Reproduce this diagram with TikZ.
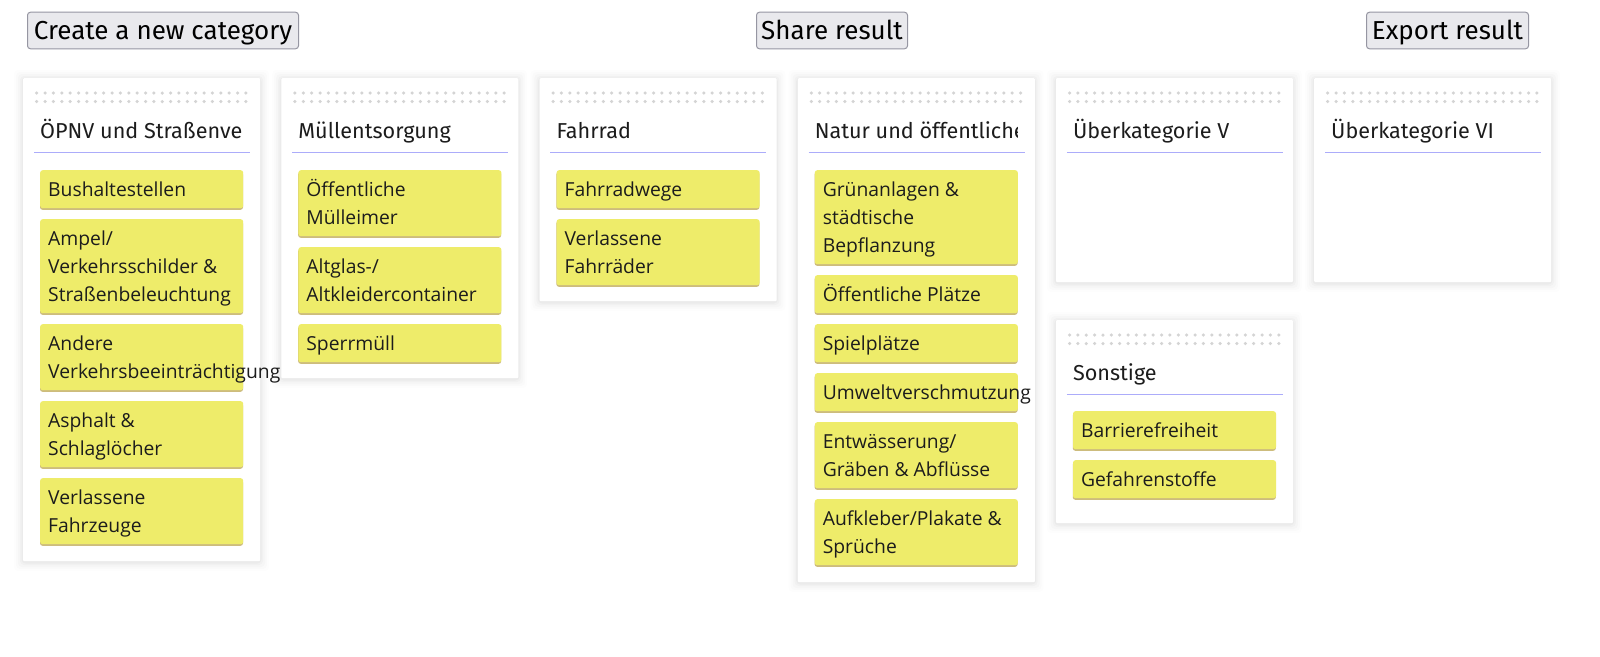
\documentclass[tikz,border=0pt]{standalone}
\usepackage{fontspec}
\setmainfont{Open Sans}
\newfontfamily\headf{Fira Sans}
\newfontfamily\cardf{Open Sans}
\definecolor{cardfill}{RGB}{238,236,106}
\definecolor{cardsh}{RGB}{205,188,125}
\definecolor{txt}{RGB}{28,28,28}
\definecolor{hline}{RGB}{172,172,250}
\definecolor{dotc}{RGB}{212,212,212}
\definecolor{btnfill}{RGB}{233,233,237}
\definecolor{btndraw}{RGB}{150,150,162}
\newcommand\kbpanel[5]{% name, x, top, bottom, heading
  \foreach \s/\o in {1.5/0.025,3/0.02,5/0.015,7/0.01,9/0.006}{%
    \fill[black,opacity=\o,rounded corners=4pt] (#2-\s,#3-\s+1) rectangle (#2+237+\s,#4+\s+1);}
  \node[panel,minimum height={(#4-#3)*1pt},anchor=north west] (#1) at (#2,#3) {};
  \foreach \i in {0,...,25}{%
    \fill[dotc] (#2+13.7+8.37*\i,#3+15) circle (1.75);
    \fill[dotc] (#2+13.7+8.37*\i,#3+23.5) circle (1.75);}
  \begin{scope}
    \clip (#2+11,#3+35) rectangle (#2+219.5,#3+70);
    \node[heading,anchor=base west] (#1h) at (#2+17,#3+60) {#5};
  \end{scope}
  \draw[hline] (#2+11,#3+74) -- (#2+227,#3+74);
}
\newcommand\kbcard[5]{% name, panel x, top, lines, text
  \pgfmathsetmacro\kbh{38+28*(#4-1)}
  \fill[cardsh,rounded corners=2.5pt] (#2+17,#3+1.8) rectangle (#2+220,#3+\kbh+1.8);
  \node[card,minimum height=\kbh pt,anchor=north west] (#1) at (#2+17,#3) {};
  \node[cardtext,anchor=north west] (#1t) at (#2+25,#3+6.4) {\strut #5};
}
\begin{document}
\begin{tikzpicture}[x=1pt,y=-1pt,
  panel/.style={fill=white,minimum width=237pt,inner sep=0pt,rounded corners=1pt},
  heading/.style={inner sep=0pt,text=txt,font=\headf\fontsize{21.6}{25}\selectfont},
  hline/.style={draw=hline,line width=1pt},
  card/.style={fill=cardfill,minimum width=203pt,inner sep=0pt,rounded corners=2.5pt},
  cardtext/.style={inner sep=0pt,align=left,text=txt,font=\cardf\fontsize{19.3}{28}\selectfont},
  btn/.style={fill=btnfill,draw=btndraw,line width=1pt,rounded corners=3pt,inner sep=0pt,
    minimum height=36.6pt,text height=24pt,text depth=5.4pt,text=black,
    font=\headf\fontsize{26}{30}\selectfont}]
\fill[white] (0,0) rectangle (1600,656);
\useasboundingbox (0,0) rectangle (1600,656);

\node[btn,minimum width=271pt,anchor=north west] (create) at (27,11.7) {Create a new category};
\node[btn,minimum width=151pt,anchor=north west] (share) at (756,11.7) {Share result};
\node[btn,minimum width=162pt,anchor=north west] (export) at (1366,11.7) {Export result};

\kbpanel{p1}{23}{78}{561}{ÖPNV und Straßenve}
\kbpanel{p2}{281.2}{78}{378}{Müllentsorgung}
\kbpanel{p3}{539.4}{78}{301}{Fahrrad}
\kbpanel{p4}{797.6}{78}{582}{Natur und öffentliche}
\kbpanel{p5}{1055.8}{78}{282}{Überkategorie V}
\kbpanel{p6}{1314}{78}{282}{Überkategorie VI}
\kbpanel{p7}{1055.8}{320}{523}{Sonstige}

\kbcard{c11}{23}{170}{1}{Bushaltestellen}
\kbcard{c12}{23}{219}{3}{Ampel/\\Verkehrsschilder \&\\Straßenbeleuchtung}
\kbcard{c13}{23}{324}{2}{Andere\\Verkehrsbeeinträchtigung}
\kbcard{c14}{23}{401}{2}{Asphalt \&\\Schlaglöcher}
\kbcard{c15}{23}{478}{2}{Verlassene\\Fahrzeuge}

\kbcard{c21}{281.2}{170}{2}{Öffentliche\\Mülleimer}
\kbcard{c22}{281.2}{247}{2}{Altglas-/\\Altkleidercontainer}
\kbcard{c23}{281.2}{324}{1}{Sperrmüll}

\kbcard{c31}{539.4}{170}{1}{Fahrradwege}
\kbcard{c32}{539.4}{219}{2}{Verlassene\\Fahrräder}

\kbcard{c41}{797.6}{170}{3}{Grünanlagen \&\\städtische\\Bepflanzung}
\kbcard{c42}{797.6}{275}{1}{Öffentliche Plätze}
\kbcard{c43}{797.6}{324}{1}{Spielplätze}
\kbcard{c44}{797.6}{373}{1}{Umweltverschmutzung}
\kbcard{c45}{797.6}{422}{2}{Entwässerung/\\Gräben \& Abflüsse}
\kbcard{c46}{797.6}{499}{2}{Aufkleber/Plakate \&\\Sprüche}

\kbcard{c71}{1055.8}{411}{1}{Barrierefreiheit}
\kbcard{c72}{1055.8}{460}{1}{Gefahrenstoffe}
\end{tikzpicture}
\end{document}
